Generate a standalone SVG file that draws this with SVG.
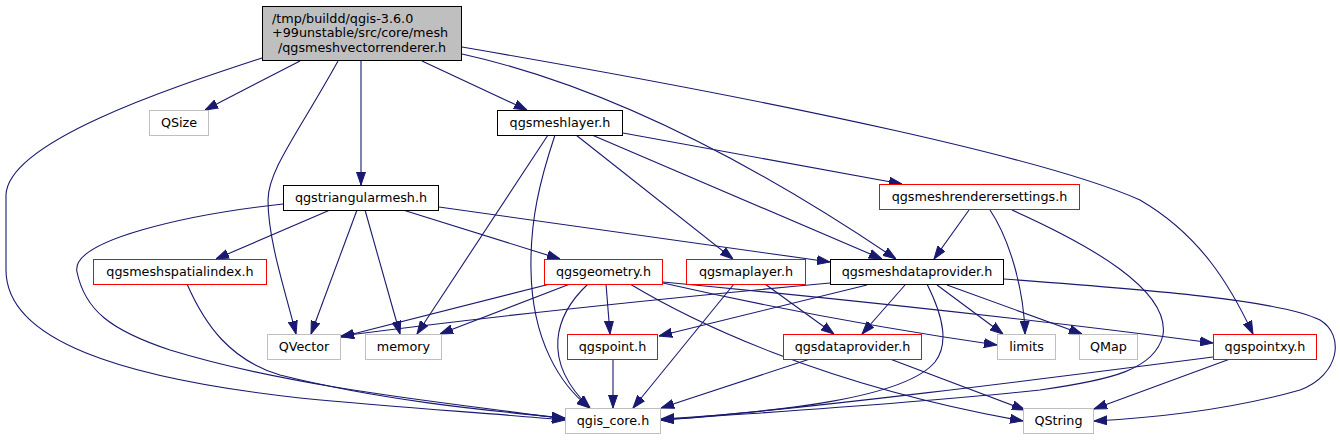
<svg xmlns="http://www.w3.org/2000/svg" width="1340" height="440" viewBox="0 0 1340 440">
<style>
.n rect{fill:#fff;stroke-width:1}
.b rect{stroke:#000}
.r rect{stroke:#ff0000}
.g rect{stroke:#bfbfbf}
.n text{font-family:"DejaVu Sans",sans-serif;font-size:12.75px;fill:#000;text-anchor:middle}
#edges path{fill:none;stroke:#191970;stroke-width:1.1;marker-end:url(#ah)}
</style>
<defs>
<marker id="ah" markerWidth="13" markerHeight="10" refX="13" refY="5" orient="auto" markerUnits="userSpaceOnUse">
<path d="M0,0.5 L13,5 L0,9.5 z" fill="#191970" stroke="#191970" stroke-width="1"/>
</marker>
</defs>
<rect x="0" y="0" width="1340" height="440" fill="#fff"/>
<g id="edges">
<path d="M300,61 L205,110"/>
<path d="M262,58 C180,85 8,140 6,195 L6,270 C6,340 120,378 300,398 C400,408 490,413 565,420"/>
<path d="M338,61 C300,130 268,170 268,200 C268,240 285,290 296,334"/>
<path d="M361,61 L361,185"/>
<path d="M422,61 L527,110"/>
<path d="M462,54 C580,80 720,140 896,259"/>
<path d="M462,47 C800,105 1050,160 1140,200 C1200,235 1230,285 1253,334"/>
<path d="M548,135 L417,334"/>
<path d="M555,135 C540,180 530,220 531,270 C532,340 560,385 590,408"/>
<path d="M576,135 L733,259"/>
<path d="M592,135 L882,259"/>
<path d="M623,133 L902,184"/>
<path d="M283,204 C190,214 70,240 77,272 C85,310 110,330 170,350 C300,390 470,405 565,419"/>
<path d="M330,210 L216,259"/>
<path d="M357,210 L311,334"/>
<path d="M365,210 L400,334"/>
<path d="M403,210 L560,259"/>
<path d="M439,207 L830,262"/>
<path d="M969,210 L934,259"/>
<path d="M990,210 C1010,240 1024,290 1025,334"/>
<path d="M1012,210 C1090,245 1170,290 1163,335 C1155,370 1110,380 1040,390 C900,405 750,413 661,420"/>
<path d="M187,284 C205,325 230,360 280,375 C380,400 480,410 565,418"/>
<path d="M550,284 L341,337"/>
<path d="M570,284 L440,334"/>
<path d="M606,284 L610,334"/>
<path d="M588,284 C555,315 540,360 590,408"/>
<path d="M630,284 C690,320 820,385 1023,421"/>
<path d="M663,283 C760,305 880,328 997,345"/>
<path d="M663,282 C800,295 1000,315 1213,343"/>
<path d="M734,284 L633,408"/>
<path d="M765,284 L834,334"/>
<path d="M830,283 C700,295 500,315 341,336"/>
<path d="M867,285 L659,336"/>
<path d="M905,285 L862,334"/>
<path d="M927,284 C945,320 948,345 935,362 C905,398 780,412 661,419"/>
<path d="M937,285 L1003,334"/>
<path d="M947,285 L1082,334"/>
<path d="M1004,279 C1150,290 1280,300 1320,320 C1345,335 1340,375 1300,390 C1230,410 1150,418 1094,421"/>
<path d="M810,359 L661,408"/>
<path d="M890,359 L1025,410"/>
<path d="M613,359 L613,408"/>
<path d="M1213,357 C1050,378 800,410 661,420"/>
<path d="M1230,359 L1094,409"/>
</g>
<g id="root" class="n b">
<rect x="262.5" y="6.5" width="199" height="54" style="fill:#bfbfbf"/>
<text x="272" y="22.5" style="text-anchor:start">/tmp/buildd/qgis-3.6.0</text>
<text x="272" y="37" style="text-anchor:start">+99unstable/src/core/mesh</text>
<text x="362" y="51.5">/qgsmeshvectorrenderer.h</text>
</g>
<g id="qsize" class="n g"><rect x="149.5" y="110.5" width="59" height="25"/><text x="179" y="127">QSize</text></g>
<g id="qgsmeshlayer" class="n b"><rect x="497.5" y="110.5" width="125" height="25"/><text x="560" y="127">qgsmeshlayer.h</text></g>
<g id="qgstriangularmesh" class="n b"><rect x="283.5" y="185.5" width="155" height="25"/><text x="361" y="202">qgstriangularmesh.h</text></g>
<g id="qgsmeshrenderersettings" class="n r"><rect x="879.5" y="184.5" width="200" height="25"/><text x="979.5" y="201">qgsmeshrenderersettings.h</text></g>
<g id="qgsmeshspatialindex" class="n r"><rect x="93.5" y="259.5" width="173" height="25"/><text x="180" y="276">qgsmeshspatialindex.h</text></g>
<g id="qgsgeometry" class="n r"><rect x="544.5" y="259.5" width="118" height="25"/><text x="603.5" y="276">qgsgeometry.h</text></g>
<g id="qgsmaplayer" class="n r"><rect x="686.5" y="259.5" width="119" height="25"/><text x="746" y="276">qgsmaplayer.h</text></g>
<g id="qgsmeshdataprovider" class="n b"><rect x="830.5" y="259.5" width="173" height="25"/><text x="917" y="276">qgsmeshdataprovider.h</text></g>
<g id="qvector" class="n g"><rect x="267.5" y="334.5" width="73" height="25"/><text x="304" y="351">QVector</text></g>
<g id="memory" class="n g"><rect x="365.5" y="334.5" width="76" height="25"/><text x="403.5" y="351">memory</text></g>
<g id="qgspoint" class="n r"><rect x="567.5" y="334.5" width="90" height="25"/><text x="612.5" y="351">qgspoint.h</text></g>
<g id="qgsdataprovider" class="n r"><rect x="783.5" y="334.5" width="138" height="25"/><text x="852.5" y="351">qgsdataprovider.h</text></g>
<g id="limits" class="n g"><rect x="997.5" y="334.5" width="58" height="25"/><text x="1026.5" y="351">limits</text></g>
<g id="qmap" class="n g"><rect x="1079.5" y="334.5" width="58" height="25"/><text x="1108.5" y="351">QMap</text></g>
<g id="qgspointxy" class="n r"><rect x="1213.5" y="334.5" width="103" height="25"/><text x="1265" y="351">qgspointxy.h</text></g>
<g id="qgis_core" class="n g"><rect x="565.5" y="408.5" width="95" height="25"/><text x="613" y="425">qgis_core.h</text></g>
<g id="qstring" class="n g"><rect x="1023.5" y="408.5" width="70" height="25"/><text x="1058.5" y="425">QString</text></g>
</svg>
